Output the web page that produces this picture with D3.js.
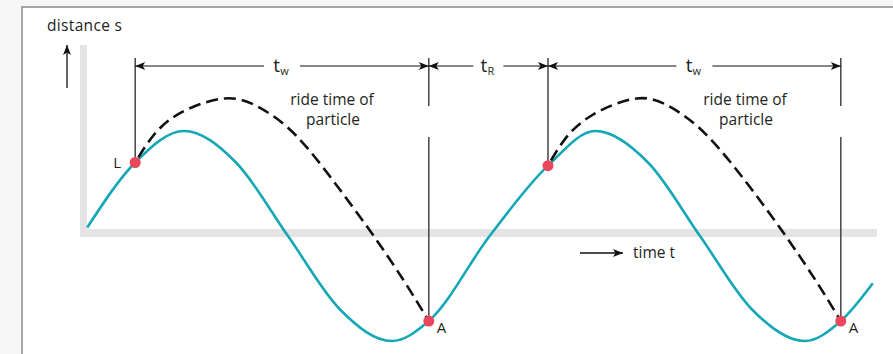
<!DOCTYPE html>
<html>
<head>
    <meta http-equiv="content-type" content="text/html; charset=utf-8" />
    <style>
        body { margin: 0; background: #f6f6f6; }
        svg { display: block; }
        text { font-family: "Open Sans", "Noto Sans", sans-serif; fill: #231f20; }
    </style>
</head>
<body>
<svg width="893" height="354"></svg>
<script src="https://d3js.org/d3.v7.min.js"></script>
<script>
    // wave of the belt point (time, distance)
    const waveT = [0.9, 6.9, 13, 19.5, 26, 32.5, 39, 43.6, 51.2, 58.5, 64.4, 71, 77.5, 84, 90.6, 95.1, 99.1]
    const waveS = [0.08, 0.70, 1.0, 0.70, 0, -0.70, -1.0, -0.81, 0, 0.67, 1.0, 0.70, 0, -0.70, -1.0, -0.81, -0.45]

    // ride path of the particle (dashed)
    const ride1T = [6.9, 9.1, 12.5, 18.1, 22.5, 27.1, 32.5, 36.9, 40.6, 43.6]
    const ride1S = [0.70, 0.95, 1.17, 1.31, 1.22, 0.95, 0.44, -0.02, -0.44, -0.81]
    const ride2T = [58.5, 60.6, 64, 69.6, 74, 78.6, 84, 88.4, 92.1, 95.1]
    const ride2S = [0.67, 0.92, 1.15, 1.31, 1.22, 0.94, 0.44, -0.02, -0.44, -0.81]

    // lift-off (L) and arrival (A) points
    const pointT = [6.9, 43.6, 58.5, 95.1]
    const pointS = [0.70, -0.81, 0.67, -0.81]
    const pointKind = ['L', 'A', 'L', 'A']
    const pointLabel = ['L', 'A', '', 'A']

    // dimension labels between the marker lines
    const spanSub = ['w', 'R', 'w']

    const svg = d3.select('svg')

    const x = d3.scaleLinear().domain([0, 100]).range([80, 880])
    const y = d3.scaleLinear().domain([-1, 1]).range([341, 131])

    // frame
    svg.append('rect')
        .attr('x', 22).attr('y', 7)
        .attr('width', 900).attr('height', 400)
        .attr('fill', '#fff')
        .attr('stroke', '#8a8a8a')
        .attr('stroke-width', 1.5)

    const defs = svg.append('defs')
    defs.append('marker')
        .attr('id', 'head')
        .attr('viewBox', '0 0 10 8')
        .attr('refX', 10).attr('refY', 4)
        .attr('markerWidth', 11).attr('markerHeight', 8)
        .attr('markerUnits', 'userSpaceOnUse')
        .attr('orient', 'auto-start-reverse')
        .append('path')
        .attr('d', 'M0,0 L10,4 L0,8 L2.5,4 Z')
        .attr('fill', '#111')

    // gray axes
    svg.append('rect')
        .attr('x', x(0)).attr('y', 45)
        .attr('width', 7).attr('height', 192)
        .attr('fill', '#e4e4e4')
    svg.append('rect')
        .attr('x', x(0)).attr('y', 229)
        .attr('width', 797).attr('height', 8)
        .attr('fill', '#e4e4e4')

    // axis labels
    svg.append('text')
        .attr('x', 47).attr('y', 31)
        .attr('font-size', 15.5)
        .attr('textLength', 75)
        .text('distance s')
    svg.append('line')
        .attr('x1', 67).attr('y1', 88)
        .attr('x2', 67).attr('y2', 45)
        .attr('stroke', '#111').attr('stroke-width', 1.3)
        .attr('marker-end', 'url(#head)')

    svg.append('line')
        .attr('x1', 580).attr('y1', 253)
        .attr('x2', 623).attr('y2', 253)
        .attr('stroke', '#111').attr('stroke-width', 1.3)
        .attr('marker-end', 'url(#head)')
    svg.append('text')
        .attr('x', 633).attr('y', 258)
        .attr('font-size', 15.5)
        .text('time t')

    // vertical marker lines
    const topY = 58
    pointT.forEach((t, i) => {
        const px = x(t), py = y(pointS[i])
        if (pointKind[i] === 'L') {
            svg.append('line')
                .attr('x1', px).attr('x2', px)
                .attr('y1', topY).attr('y2', py)
                .attr('stroke', '#444').attr('stroke-width', 1.5)
        } else {
            svg.append('line')
                .attr('x1', px).attr('x2', px)
                .attr('y1', topY).attr('y2', 106)
                .attr('stroke', '#444').attr('stroke-width', 1.5)
            svg.append('line')
                .attr('x1', px).attr('x2', px)
                .attr('y1', 137).attr('y2', py)
                .attr('stroke', '#444').attr('stroke-width', 1.5)
        }
    })

    // dimension arrows
    const arrowY = 66
    spanSub.forEach((sub, i) => {
        const a = x(pointT[i]), b = x(pointT[i + 1])
        const mid = (a + b) / 2
        const half = sub === 'w' ? 18 : 15
        svg.append('line')
            .attr('x1', mid - half).attr('x2', a)
            .attr('y1', arrowY).attr('y2', arrowY)
            .attr('stroke', '#111').attr('stroke-width', 1.2)
            .attr('marker-end', 'url(#head)')
        svg.append('line')
            .attr('x1', mid + half).attr('x2', b)
            .attr('y1', arrowY).attr('y2', arrowY)
            .attr('stroke', '#111').attr('stroke-width', 1.2)
            .attr('marker-end', 'url(#head)')
        const lbl = svg.append('text')
            .attr('x', mid - 1).attr('y', arrowY + 6)
            .attr('text-anchor', 'middle')
            .attr('font-size', 19)
        lbl.append('tspan').text('t')
        lbl.append('tspan')
            .attr('font-size', 11)
            .attr('dy', 3)
            .text(sub)
    })

    // ride time text
    ;[332, 745].forEach(cx => {
        svg.append('text')
            .attr('x', cx).attr('y', 105)
            .attr('text-anchor', 'middle')
            .attr('font-size', 15.5)
            .text('ride time of')
        svg.append('text')
            .attr('x', cx + 1).attr('y', 125)
            .attr('text-anchor', 'middle')
            .attr('font-size', 15.5)
            .text('particle')
    })

    const wave = d3.line()
        .x(d => x(d[0]))
        .y(d => y(d[1]))
        .curve(d3.curveMonotoneX)

    const ride = d3.line()
        .x(d => x(d[0]))
        .y(d => y(d[1]))
        .curve(d3.curveNatural)

    // belt wave
    svg.append('path')
        .datum(waveT.map((t, i) => [t, waveS[i]]))
        .attr('d', wave)
        .attr('fill', 'none')
        .attr('stroke', '#16a7b6')
        .attr('stroke-width', 2.6)

    // particle rides
    ;[[ride1T, ride1S], [ride2T, ride2S]].forEach(([ts, ss]) => {
        svg.append('path')
            .datum(ts.map((t, i) => [t, ss[i]]))
            .attr('d', ride)
            .attr('fill', 'none')
            .attr('stroke', '#111')
            .attr('stroke-width', 2.6)
            .attr('stroke-dasharray', '12,6')
            .attr('stroke-dashoffset', -6)
    })

    // points
    svg.selectAll('circle.pt')
        .data(pointT)
        .join('circle')
        .attr('class', 'pt')
        .attr('cx', d => x(d))
        .attr('cy', (d, i) => y(pointS[i]))
        .attr('r', 5.5)
        .attr('fill', '#e8485a')

    svg.selectAll('text.pl')
        .data(pointT)
        .join('text')
        .attr('class', 'pl')
        .attr('x', (d, i) => pointKind[i] === 'L' ? x(d) - 22 : x(d) + 8)
        .attr('y', (d, i) => y(pointS[i]) + (pointKind[i] === 'L' ? 5 : 12))
        .attr('font-size', 15)
        .text((d, i) => pointLabel[i])
</script>
</body>
</html>
